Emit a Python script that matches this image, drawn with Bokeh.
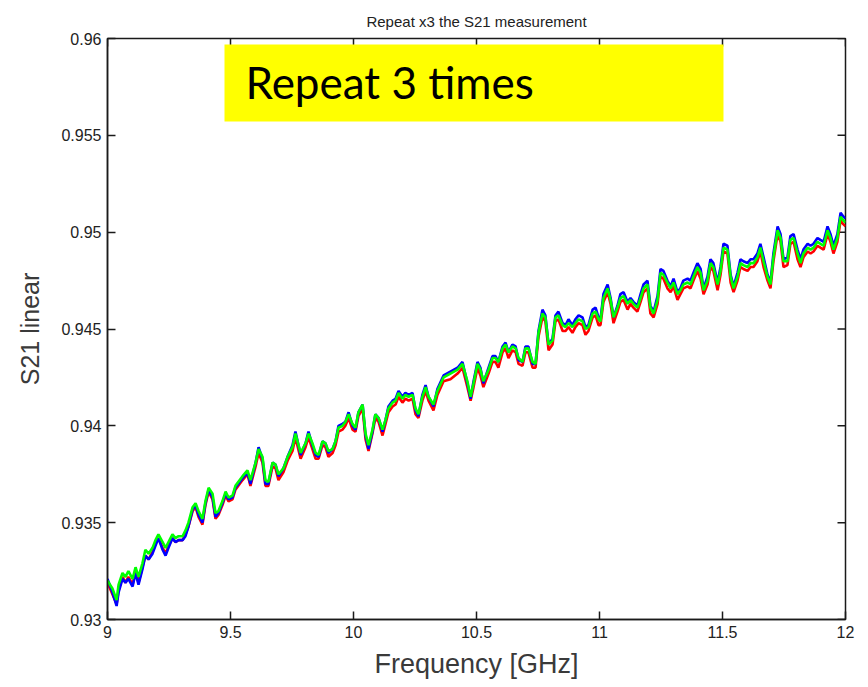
import math
from bokeh.plotting import figure
from bokeh.models import FixedTicker, BoxAnnotation, Label, Range1d
from bokeh.embed import file_html
from bokeh.resources import INLINE

title_text = "Repeat x3 the S21 measurement"
x_label = "Frequency [GHz]"
y_label = "S21 linear"
note_text = "Repeat 3 times"

x_ticks = [9, 9.5, 10, 10.5, 11, 11.5, 12]
y_ticks = [0.93, 0.935, 0.94, 0.945, 0.95, 0.955, 0.96]
y_tick_labels = {0.93: "0.93", 0.935: "0.935", 0.94: "0.94", 0.945: "0.945",
                 0.95: "0.95", 0.955: "0.955", 0.96: "0.96"}
x_tick_labels = {9: "9", 9.5: "9.5", 10: "10", 10.5: "10.5", 11: "11", 11.5: "11.5", 12: "12"}

freq = [
    9.000, 9.020, 9.037, 9.045, 9.061, 9.073, 9.085, 9.102, 9.114, 9.126,
    9.142, 9.154, 9.167, 9.183, 9.195, 9.207, 9.224, 9.236, 9.248, 9.264,
    9.276, 9.289, 9.305, 9.317, 9.329, 9.346, 9.358, 9.370, 9.386, 9.398,
    9.411, 9.427, 9.439, 9.451, 9.467, 9.480, 9.492, 9.508, 9.520, 9.549,
    9.569, 9.581, 9.602, 9.614, 9.630, 9.642, 9.654, 9.671, 9.683, 9.695,
    9.715, 9.732, 9.752, 9.764, 9.785, 9.805, 9.817, 9.833, 9.846, 9.858,
    9.874, 9.886, 9.898, 9.915, 9.927, 9.939, 9.955, 9.967, 9.980, 9.996,
    10.008, 10.020, 10.037, 10.049, 10.061, 10.077, 10.089, 10.102, 10.118, 10.130,
    10.142, 10.159, 10.171, 10.183, 10.199, 10.211, 10.224, 10.240, 10.252, 10.264,
    10.280, 10.293, 10.305, 10.325, 10.341, 10.366, 10.394, 10.423, 10.443, 10.463,
    10.476, 10.488, 10.504, 10.516, 10.528, 10.549, 10.565, 10.577, 10.589, 10.606,
    10.618, 10.630, 10.646, 10.659, 10.671, 10.687, 10.699, 10.711, 10.728, 10.740,
    10.752, 10.768, 10.780, 10.793, 10.809, 10.821, 10.833, 10.850, 10.862, 10.874,
    10.890, 10.902, 10.915, 10.931, 10.943, 10.955, 10.972, 10.984, 10.996, 11.004,
    11.016, 11.033, 11.045, 11.057, 11.073, 11.085, 11.098, 11.114, 11.126, 11.138,
    11.154, 11.167, 11.179, 11.195, 11.207, 11.220, 11.236, 11.248, 11.260, 11.276,
    11.289, 11.301, 11.317, 11.329, 11.341, 11.358, 11.370, 11.382, 11.398, 11.411,
    11.423, 11.439, 11.451, 11.463, 11.480, 11.492, 11.504, 11.520, 11.533, 11.545,
    11.561, 11.573, 11.585, 11.602, 11.614, 11.626, 11.642, 11.654, 11.667, 11.683,
    11.695, 11.707, 11.724, 11.736, 11.748, 11.764, 11.776, 11.789, 11.805, 11.817,
    11.829, 11.846, 11.858, 11.870, 11.886, 11.898, 11.911, 11.927, 11.939, 11.951,
    11.967, 11.980, 11.992, 12.000,
]

s21_green = [
    0.9320, 0.9316, 0.9310, 0.9318, 0.9324, 0.9322, 0.9325, 0.9321, 0.9327, 0.9322,
    0.9329, 0.9336, 0.9334, 0.9337, 0.9341, 0.9344, 0.9340, 0.9337, 0.9340, 0.9344,
    0.9342, 0.9343, 0.9343, 0.9346, 0.9350, 0.9358, 0.9360, 0.9356, 0.9352, 0.9361,
    0.9368, 0.9365, 0.9355, 0.9356, 0.9361, 0.9366, 0.9363, 0.9364, 0.9369, 0.9374,
    0.9377, 0.9372, 0.9381, 0.9388, 0.9384, 0.9372, 0.9371, 0.9381, 0.9380, 0.9375,
    0.9378, 0.9384, 0.9389, 0.9396, 0.9386, 0.9391, 0.9396, 0.9391, 0.9386, 0.9385,
    0.9392, 0.9391, 0.9387, 0.9388, 0.9392, 0.9399, 0.9400, 0.9402, 0.9406, 0.9401,
    0.9399, 0.9407, 0.9411, 0.9396, 0.9390, 0.9398, 0.9406, 0.9404, 0.9398, 0.9403,
    0.9409, 0.9412, 0.9413, 0.9417, 0.9414, 0.9416, 0.9415, 0.9416, 0.9409, 0.9406,
    0.9415, 0.9420, 0.9415, 0.9411, 0.9418, 0.9425, 0.9427, 0.9429, 0.9432, 0.9423,
    0.9415, 0.9422, 0.9432, 0.9429, 0.9423, 0.9429, 0.9435, 0.9435, 0.9433, 0.9440,
    0.9442, 0.9438, 0.9441, 0.9440, 0.9435, 0.9433, 0.9440, 0.9440, 0.9433, 0.9432,
    0.9448, 0.9458, 0.9456, 0.9442, 0.9444, 0.9456, 0.9457, 0.9452, 0.9451, 0.9453,
    0.9451, 0.9453, 0.9455, 0.9454, 0.9450, 0.9451, 0.9458, 0.9459, 0.9455, 0.9454,
    0.9466, 0.9471, 0.9465, 0.9456, 0.9461, 0.9466, 0.9467, 0.9463, 0.9465, 0.9463,
    0.9461, 0.9466, 0.9471, 0.9473, 0.9461, 0.9458, 0.9465, 0.9479, 0.9478, 0.9474,
    0.9471, 0.9474, 0.9468, 0.9470, 0.9473, 0.9474, 0.9473, 0.9477, 0.9482, 0.9479,
    0.9470, 0.9475, 0.9484, 0.9482, 0.9473, 0.9480, 0.9492, 0.9491, 0.9477, 0.9471,
    0.9477, 0.9484, 0.9483, 0.9482, 0.9484, 0.9484, 0.9487, 0.9492, 0.9485, 0.9477,
    0.9473, 0.9487, 0.9501, 0.9497, 0.9485, 0.9485, 0.9496, 0.9497, 0.9489, 0.9484,
    0.9489, 0.9492, 0.9491, 0.9492, 0.9495, 0.9494, 0.9493, 0.9501, 0.9497, 0.9491,
    0.9497, 0.9508, 0.9506, 0.9505,
]

s21_red = [
    0.9319, 0.9313, 0.9308, 0.9315, 0.9322, 0.9319, 0.9322, 0.9318, 0.9325, 0.9319,
    0.9327, 0.9333, 0.9331, 0.9335, 0.9339, 0.9342, 0.9337, 0.9334, 0.9338, 0.9342,
    0.9340, 0.9341, 0.9341, 0.9344, 0.9348, 0.9356, 0.9358, 0.9353, 0.9349, 0.9359,
    0.9366, 0.9362, 0.9352, 0.9354, 0.9359, 0.9364, 0.9361, 0.9362, 0.9367, 0.9372,
    0.9375, 0.9369, 0.9379, 0.9386, 0.9381, 0.9369, 0.9369, 0.9379, 0.9378, 0.9372,
    0.9376, 0.9382, 0.9387, 0.9394, 0.9383, 0.9389, 0.9394, 0.9388, 0.9383, 0.9383,
    0.9390, 0.9389, 0.9384, 0.9386, 0.9390, 0.9397, 0.9398, 0.9400, 0.9404, 0.9398,
    0.9397, 0.9405, 0.9409, 0.9393, 0.9387, 0.9396, 0.9404, 0.9402, 0.9395, 0.9401,
    0.9407, 0.9410, 0.9411, 0.9415, 0.9412, 0.9414, 0.9413, 0.9414, 0.9406, 0.9404,
    0.9413, 0.9418, 0.9413, 0.9408, 0.9416, 0.9423, 0.9424, 0.9427, 0.9430, 0.9420,
    0.9413, 0.9420, 0.9430, 0.9426, 0.9420, 0.9427, 0.9433, 0.9433, 0.9430, 0.9438,
    0.9440, 0.9435, 0.9439, 0.9438, 0.9432, 0.9431, 0.9438, 0.9438, 0.9430, 0.9430,
    0.9446, 0.9456, 0.9454, 0.9439, 0.9442, 0.9454, 0.9455, 0.9449, 0.9449, 0.9451,
    0.9448, 0.9451, 0.9453, 0.9452, 0.9447, 0.9449, 0.9456, 0.9457, 0.9452, 0.9452,
    0.9464, 0.9469, 0.9463, 0.9453, 0.9459, 0.9464, 0.9465, 0.9460, 0.9463, 0.9461,
    0.9459, 0.9464, 0.9469, 0.9471, 0.9458, 0.9456, 0.9463, 0.9477, 0.9476, 0.9471,
    0.9469, 0.9472, 0.9465, 0.9468, 0.9471, 0.9472, 0.9471, 0.9475, 0.9480, 0.9476,
    0.9468, 0.9473, 0.9482, 0.9480, 0.9470, 0.9478, 0.9490, 0.9489, 0.9474, 0.9469,
    0.9475, 0.9482, 0.9481, 0.9480, 0.9482, 0.9482, 0.9485, 0.9490, 0.9482, 0.9475,
    0.9471, 0.9485, 0.9499, 0.9495, 0.9482, 0.9483, 0.9494, 0.9495, 0.9486, 0.9482,
    0.9487, 0.9490, 0.9489, 0.9490, 0.9493, 0.9492, 0.9491, 0.9499, 0.9495, 0.9489,
    0.9495, 0.9506, 0.9504, 0.9503,
]

s21_blue = [
    0.9321, 0.9314, 0.9307, 0.9314, 0.9321, 0.9319, 0.9321, 0.9317, 0.9324, 0.9318,
    0.9326, 0.9333, 0.9331, 0.9334, 0.9338, 0.9342, 0.9336, 0.9333, 0.9337, 0.9342,
    0.9340, 0.9341, 0.9341, 0.9343, 0.9348, 0.9357, 0.9359, 0.9354, 0.9350, 0.9360,
    0.9367, 0.9363, 0.9353, 0.9355, 0.9360, 0.9365, 0.9362, 0.9363, 0.9368, 0.9373,
    0.9376, 0.9370, 0.9381, 0.9389, 0.9383, 0.9370, 0.9370, 0.9381, 0.9380, 0.9374,
    0.9378, 0.9384, 0.9390, 0.9397, 0.9385, 0.9391, 0.9397, 0.9390, 0.9385, 0.9384,
    0.9392, 0.9391, 0.9386, 0.9388, 0.9392, 0.9400, 0.9401, 0.9402, 0.9407, 0.9400,
    0.9398, 0.9407, 0.9411, 0.9395, 0.9388, 0.9397, 0.9406, 0.9404, 0.9397, 0.9403,
    0.9410, 0.9413, 0.9414, 0.9418, 0.9415, 0.9417, 0.9416, 0.9417, 0.9408, 0.9405,
    0.9416, 0.9421, 0.9415, 0.9410, 0.9419, 0.9426, 0.9428, 0.9430, 0.9433, 0.9422,
    0.9414, 0.9423, 0.9433, 0.9430, 0.9422, 0.9430, 0.9436, 0.9436, 0.9433, 0.9441,
    0.9443, 0.9438, 0.9442, 0.9441, 0.9434, 0.9433, 0.9441, 0.9441, 0.9432, 0.9432,
    0.9449, 0.9460, 0.9457, 0.9442, 0.9445, 0.9457, 0.9459, 0.9453, 0.9452, 0.9455,
    0.9452, 0.9455, 0.9457, 0.9456, 0.9451, 0.9452, 0.9460, 0.9461, 0.9456, 0.9455,
    0.9468, 0.9473, 0.9466, 0.9456, 0.9462, 0.9468, 0.9469, 0.9464, 0.9466, 0.9464,
    0.9462, 0.9468, 0.9473, 0.9475, 0.9462, 0.9459, 0.9467, 0.9481, 0.9480, 0.9475,
    0.9472, 0.9476, 0.9469, 0.9471, 0.9475, 0.9476, 0.9475, 0.9479, 0.9484, 0.9481,
    0.9471, 0.9477, 0.9486, 0.9484, 0.9474, 0.9482, 0.9494, 0.9493, 0.9478, 0.9472,
    0.9479, 0.9486, 0.9485, 0.9484, 0.9486, 0.9486, 0.9489, 0.9494, 0.9487, 0.9478,
    0.9474, 0.9489, 0.9503, 0.9499, 0.9486, 0.9487, 0.9498, 0.9499, 0.9491, 0.9486,
    0.9491, 0.9494, 0.9493, 0.9494, 0.9497, 0.9496, 0.9495, 0.9503, 0.9499, 0.9493,
    0.9499, 0.9510, 0.9508, 0.9507,
]

x_lo, x_hi = x_ticks[0], x_ticks[-1]
y_lo, y_hi = y_ticks[0], y_ticks[-1]

p = figure(width=868, height=687, output_backend="svg", toolbar_location=None,
           x_range=Range1d(x_lo, x_hi), y_range=Range1d(y_lo, y_hi),
           min_border_left=107, min_border_right=23, min_border_top=38, min_border_bottom=68)
p.background_fill_color = "white"
p.border_fill_color = "white"
p.xgrid.visible = False
p.ygrid.visible = False
p.outline_line_color = "#1a1a1a"
p.outline_line_width = 1.5

p.title.text = title_text
p.title.align = "center"
p.title.text_font = "Liberation Sans"
p.title.text_font_size = "15px"
p.title.text_font_style = "normal"
p.title.text_color = "#222222"
p.title.standoff = 18

ax_font = "Liberation Sans"
for ax in p.xaxis:
    ax.ticker = FixedTicker(ticks=x_ticks)
    ax.major_label_overrides = x_tick_labels
for ax in p.yaxis:
    ax.ticker = FixedTicker(ticks=y_ticks)
    ax.major_label_overrides = y_tick_labels

for ax in list(p.xaxis) + list(p.yaxis):
    ax.major_tick_in = 8
    ax.major_tick_out = 0
    ax.minor_tick_in = 0
    ax.minor_tick_out = 0
    ax.axis_line_color = "#1a1a1a"
    ax.axis_line_width = 1.5
    ax.major_tick_line_color = "#1a1a1a"
    ax.major_tick_line_width = 1.5
    ax.major_label_text_font = ax_font
    ax.major_label_text_font_size = "16px"
    ax.major_label_text_color = "#222222"
    ax.axis_label_text_font = ax_font
    ax.axis_label_text_font_style = "normal"
    ax.axis_label_text_color = "#3a3a3a"
    ax.major_label_standoff = 6

p.xaxis.axis_label = x_label
p.yaxis.axis_label = y_label
p.xaxis.axis_label_text_font_size = "27px"
p.yaxis.axis_label_text_font_size = "25px"
p.xaxis.axis_label_standoff = 8
p.yaxis.axis_label_standoff = 14

# inward tick marks on the top and right edges of the box (MATLAB style)
p.ray(x=x_ticks, y=[y_hi] * len(x_ticks), length=8, length_units="screen",
      angle=-math.pi / 2, line_color="#1a1a1a", line_width=1.5)
p.ray(x=[x_hi] * len(y_ticks), y=y_ticks, length=8, length_units="screen",
      angle=math.pi, line_color="#1a1a1a", line_width=1.5)

p.line(freq, s21_red, line_color="#ff0000", line_width=2.6)
p.line(freq, s21_blue, line_color="#0000ff", line_width=2.6)
p.line(freq, s21_green, line_color="#00ff00", line_width=2.6)

note_box = BoxAnnotation(left=9.4756, right=11.504, top=0.95969, bottom=0.95571,
                         fill_color="#ffff00", fill_alpha=1.0, line_color=None)
p.add_layout(note_box)
note = Label(x=9.561, y=0.95777, text=note_text, text_font="Lato", text_font_size="44px",
             text_color="black", text_baseline="middle", text_align="left")
p.add_layout(note)

open("out.html", "w").write(file_html(p, INLINE))
